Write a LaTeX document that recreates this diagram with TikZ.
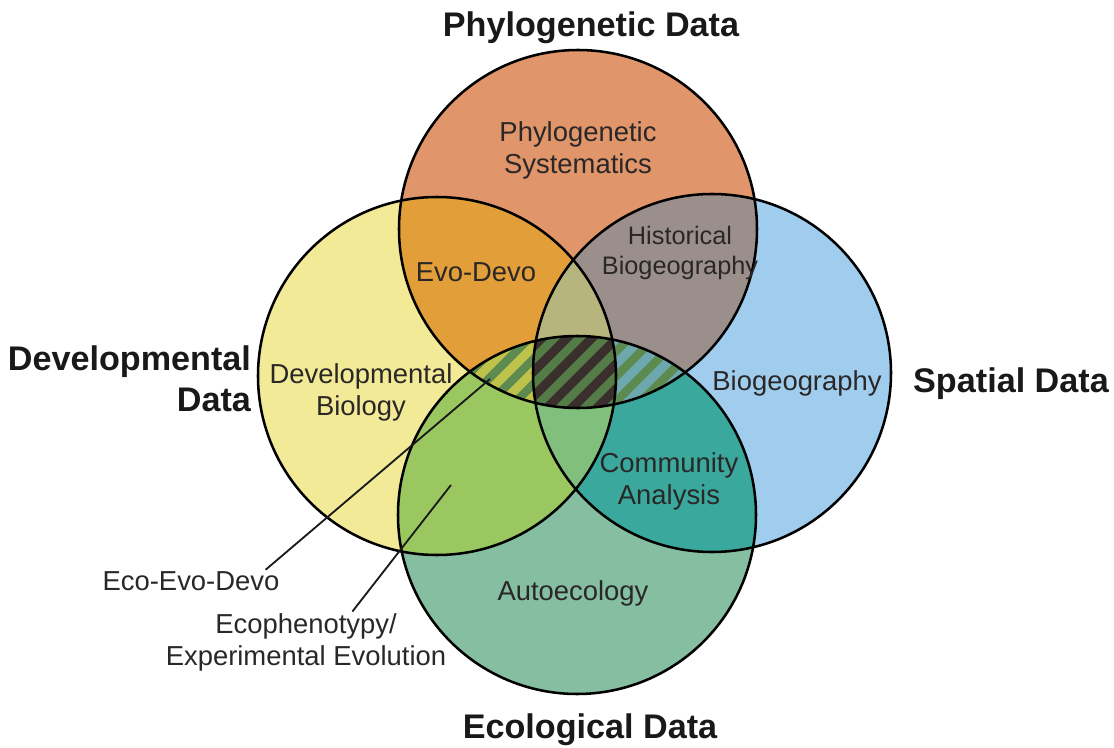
\documentclass[tikz,border=0pt]{standalone}
\usepackage{fontspec}
\setmainfont{Liberation Sans}
\usepackage{tikz}
\definecolor{phylo}{HTML}{E0956B}
\definecolor{devel}{HTML}{F2EA97}
\definecolor{spatial}{HTML}{A0CDEE}
\definecolor{ecol}{HTML}{85BEA0}
\definecolor{evodevo}{HTML}{E29E38}
\definecolor{histbio}{HTML}{9B8F8C}
\definecolor{phydevspa}{HTML}{B7B57E}
\definecolor{ecophen}{HTML}{9AC75F}
\definecolor{commun}{HTML}{3AA89C}
\definecolor{devspaeco}{HTML}{80C07C}
\definecolor{lensbase}{HTML}{5D8A4F}
\definecolor{stripeyel}{HTML}{BFC24A}
\definecolor{stripedark}{HTML}{3A2F2D}
\definecolor{stripeblue}{HTML}{6DA8AE}
\definecolor{inktext}{HTML}{2A2727}
\tikzstyle{ring}=[draw=black, line width=1.8pt]
\tikzstyle{leader}=[draw=black!90, line width=1.3pt]
\tikzstyle{stripe}=[line width=6.3pt]
\tikzset{
  setlabel/.style = {align=center, inner sep=2pt, text=black!90,
    font=\fontsize{24.3}{29.5}\selectfont\bfseries},
  arealabel/.style = {align=center, inner sep=2pt, text=inktext,
    font=\fontsize{19.5}{22.8}\selectfont},
  smalllabel/.style = {arealabel, font=\fontsize{18}{21.5}\selectfont},
}
\newcommand{\phylocirc}{(578,229) circle (179)}
\newcommand{\devcirc}{(437,376) circle (179)}
\newcommand{\spacirc}{(712,373) circle (179)}
\newcommand{\ecocirc}{(577,515) circle (179)}
\begin{document}
\begin{tikzpicture}[x=0.025cm,y=-0.025cm]
    % single sets
    \fill[devel] \devcirc;
    \fill[spatial] \spacirc;
    \fill[phylo] \phylocirc;
    \fill[ecol] \ecocirc;
    % pairs
    \begin{scope}\clip \phylocirc; \fill[evodevo] \devcirc; \fill[histbio] \spacirc; \end{scope}
    \begin{scope}\clip \ecocirc; \fill[ecophen] \devcirc; \fill[commun] \spacirc; \end{scope}
    % triples
    \begin{scope}\clip \devcirc; \clip \spacirc;
        \fill[phydevspa] \phylocirc;
        \fill[devspaeco] \ecocirc;
    \end{scope}
    % hatched lens
    \begin{scope}\clip \phylocirc; \clip \ecocirc;
        \fill[lensbase] \phylocirc;
        \begin{scope}\clip \devcirc;
            \foreach \a in {385,410,...,710} \draw[stripe,stripeyel] (\a,420) -- ++(100,-100);
        \end{scope}
        \begin{scope}\clip \spacirc;
            \foreach \a in {385,410,...,710} \draw[stripe,stripeblue] (\a,420) -- ++(100,-100);
            \clip \devcirc;
            \fill[lensbase!90!black] \devcirc;
            \foreach \a in {385,410,...,710} \draw[stripe,stripedark] (\a,420) -- ++(100,-100);
        \end{scope}
    \end{scope}
    % outlines
    \draw[ring] \devcirc;
    \draw[ring] \spacirc;
    \draw[ring] \phylocirc;
    \draw[ring] \ecocirc;

    \node[setlabel] (physet) at (591,28) {Phylogenetic Data};
    \node[setlabel, align=right, anchor=east] (devset) at (254,379) {Developmental\\Data};
    \node[setlabel] (spaset) at (1011,384) {Spatial Data};
    \node[setlabel] (ecoset) at (590,730) {Ecological Data};

    \node[arealabel] (physys) at (578,150) {Phylogenetic\\Systematics};
    \node[arealabel] (evodev) at (476,272) {Evo-Devo};
    \node[smalllabel] (histbg) at (680,253) {Historical\\Biogeography};
    \node[arealabel] (devbio) at (361,392) {Developmental\\Biology};
    \node[arealabel] (biogeo) at (797,383) {Biogeography};
    \node[arealabel] (commu) at (669,481) {Community\\Analysis};
    \node[arealabel] (autoec) at (573,593) {Autoecology};
    \node[arealabel] (ecoevo) at (191,581) {Eco-Evo-Devo};
    \node[arealabel] (ecophe) at (306,642) {Ecophenotypy/\\Experimental Evolution};

    \coordinate (ecoevotip) at (490,379);
    \coordinate (ecophetip) at (451,485);
    \path[leader] ([xshift=-12pt,yshift=-1pt]ecoevo.north east) -- (ecoevotip);
    \path[leader] ([xshift=33pt,yshift=-1pt]ecophe.north) -- (ecophetip);

    \pgfresetboundingbox
    \path[use as bounding box] (0,0) rectangle (1114,748);
\end{tikzpicture}
\end{document}
